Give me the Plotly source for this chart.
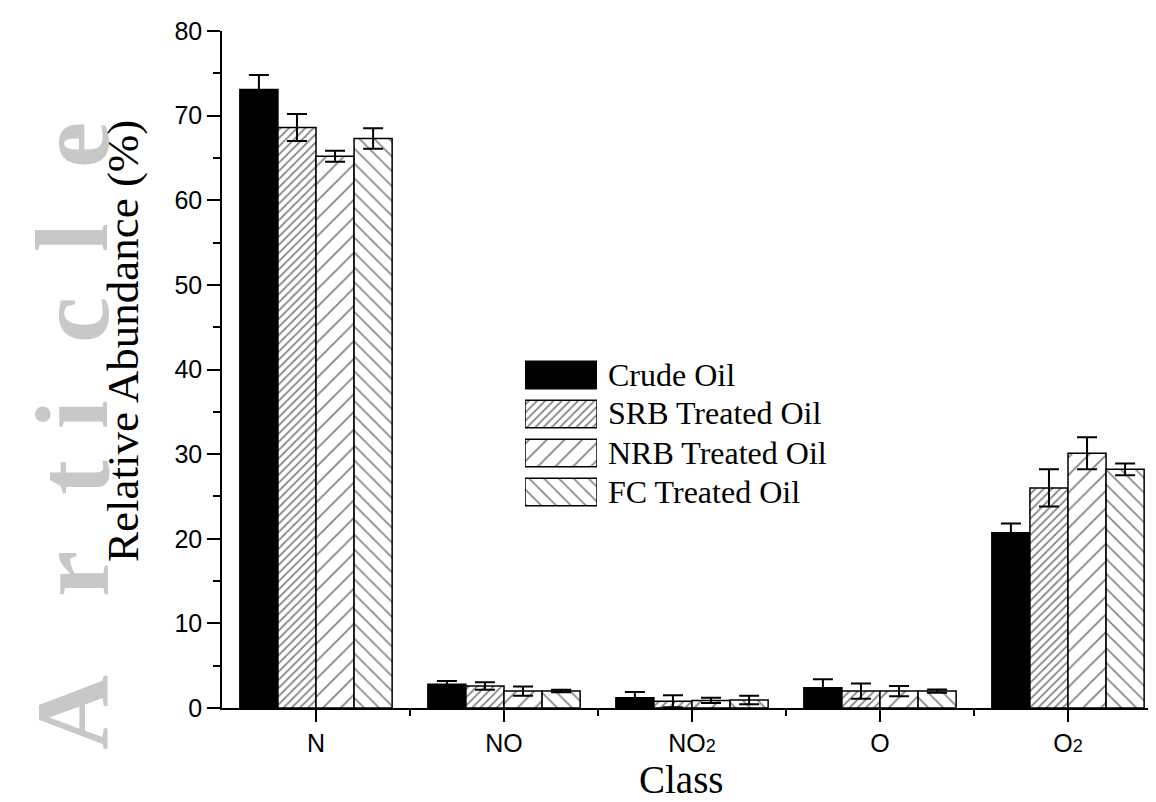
import plotly.graph_objects as go

# ---------------- data ----------------
categories = ["N", "NO", "NO2", "O", "O2"]
tick_labels = ["N", "NO", "NO<span style='font-size:18px'>2</span>", "O",
               "O<span style='font-size:18px'>2</span>"]
series_names = ["Crude Oil", "SRB Treated Oil", "NRB Treated Oil", "FC Treated Oil"]

crude = [73.1, 2.8, 1.2, 2.4, 20.7]
crude_err = [1.7, 0.4, 0.7, 1.0, 1.1]
srb = [68.6, 2.6, 0.8, 2.0, 26.0]
srb_err = [1.6, 0.45, 0.7, 0.9, 2.2]
nrb = [65.2, 2.0, 0.9, 2.0, 30.1]
nrb_err = [0.65, 0.55, 0.3, 0.6, 1.9]
fc = [67.3, 2.0, 0.95, 2.0, 28.2]
fc_err = [1.2, 0.15, 0.5, 0.2, 0.7]

watermark_letters = ["A", "r", "t", "i", "c", "l", "e"]

# ---------------- geometry helpers (screen px -> paper) ----------------
OFF = 8                      # page body margin
W, H = 1156 - OFF, 802 - OFF
L, R, T, B = 222 - OFF, 0, 31 - OFF, H - (708 - OFF)
PW, PH = W - L - R, H - T - B


def px(xs):
    return (xs - OFF - L) / PW


def py(ys):
    return (H - B - (ys - OFF)) / PH


values = [crude, srb, nrb, fc]
errors = [crude_err, srb_err, nrb_err, fc_err]
fills = [
    dict(color="#000000"),
    dict(color="white", pattern=dict(shape="/", size=5.8, solidity=0.3, fgcolor="black", bgcolor="white", fillmode="overlay")),
    dict(color="white", pattern=dict(shape="/", size=12.5, solidity=0.13, fgcolor="black", bgcolor="white", fillmode="overlay")),
    dict(color="white", pattern=dict(shape="\\", size=10.5, solidity=0.15, fgcolor="black", bgcolor="white", fillmode="overlay")),
]

xpos = list(range(len(categories)))

fig = go.Figure()
for name, v, e, f in zip(series_names, values, errors, fills):
    marker = dict(line=dict(color="black", width=1.5))
    marker.update(f)
    fig.add_trace(go.Bar(
        x=xpos, y=v, name=name, marker=marker, showlegend=False,
        error_y=dict(type="data", array=e, color="black", thickness=2, width=10),
    ))

# legend swatches drawn on a small secondary axis
for i, (name, f) in enumerate(zip(series_names, fills)):
    marker = dict(line=dict(color="black", width=1.5))
    marker.update(f)
    fig.add_trace(go.Bar(
        x=[1], y=[i], orientation="h", base=0, width=0.7, marker=marker,
        xaxis="x2", yaxis="y2", showlegend=False, hoverinfo="skip",
    ))

axis_font = dict(family="Liberation Sans, Arial, sans-serif", size=25, color="black")
serif = "Liberation Serif, Times New Roman, serif"

fig.update_layout(
    width=W, height=H,
    margin=dict(l=L, r=R, t=T, b=B),
    paper_bgcolor="white", plot_bgcolor="white",
    barmode="group", bargap=0.19, bargroupgap=0,
    showlegend=False,
    xaxis=dict(
        range=[-0.5, -0.5 + PW / 188.0], tickmode="array", tickvals=xpos, ticktext=tick_labels,
        showline=True, linecolor="black", linewidth=1.5, ticks="outside", ticklen=12,
        tickwidth=1.5, tickcolor="black", showgrid=False, zeroline=False, tickfont=axis_font,
        ticklabelstandoff=0,
        minor=dict(tickmode="array", tickvals=[x + 0.5 for x in xpos], ticks="outside",
                   ticklen=6, tickwidth=1.5, tickcolor="black", showgrid=False),
    ),
    yaxis=dict(
        range=[0, 80], dtick=10, showline=True, linecolor="black", linewidth=1.5,
        ticks="outside", ticklen=13, tickwidth=1.5, tickcolor="black", showgrid=False,
        zeroline=False, tickfont=axis_font,
        minor=dict(dtick=5, ticks="outside", ticklen=7, tickwidth=1.5, tickcolor="black", showgrid=False),
    ),
    xaxis2=dict(domain=[px(525), px(597)], range=[0, 1], anchor="y2", visible=False),
    yaxis2=dict(domain=[py(511.5), py(355.5)], range=[3.5, -0.5], anchor="x2", visible=False),
)

annotations = []
# watermark letters (bottom to top)
wm_centers = [713, 574, 478, 415, 320, 238, 145]
for ch, yc in zip(watermark_letters, wm_centers):
    annotations.append(dict(
        text=ch, x=px(72), y=py(yc), xref="paper", yref="paper", showarrow=False,
        textangle=-90, xanchor="center", yanchor="middle", borderpad=0,
        font=dict(family=serif, size=104, color="#c8c8c8", weight="bold"),
    ))

# axis titles
annotations.append(dict(
    text="Relative Abundance (%)", x=px(123), y=py(341), xref="paper", yref="paper",
    showarrow=False, textangle=-90, xanchor="center", yanchor="middle",
    font=dict(family=serif, size=45, color="black"),
))
annotations.append(dict(
    text="Class", x=px(681), y=py(780), xref="paper", yref="paper",
    showarrow=False, xanchor="center", yanchor="middle", borderpad=0,
    font=dict(family=serif, size=39, color="black"),
))

# legend texts
for name, yc in zip(series_names, [375, 413, 453, 492]):
    annotations.append(dict(
        text=name, x=px(606), y=py(yc), xref="paper", yref="paper",
        showarrow=False, xanchor="left", yanchor="middle",
        font=dict(family=serif, size=32, color="black"),
    ))

fig.update_layout(annotations=annotations)
fig.write_html("out.html")
